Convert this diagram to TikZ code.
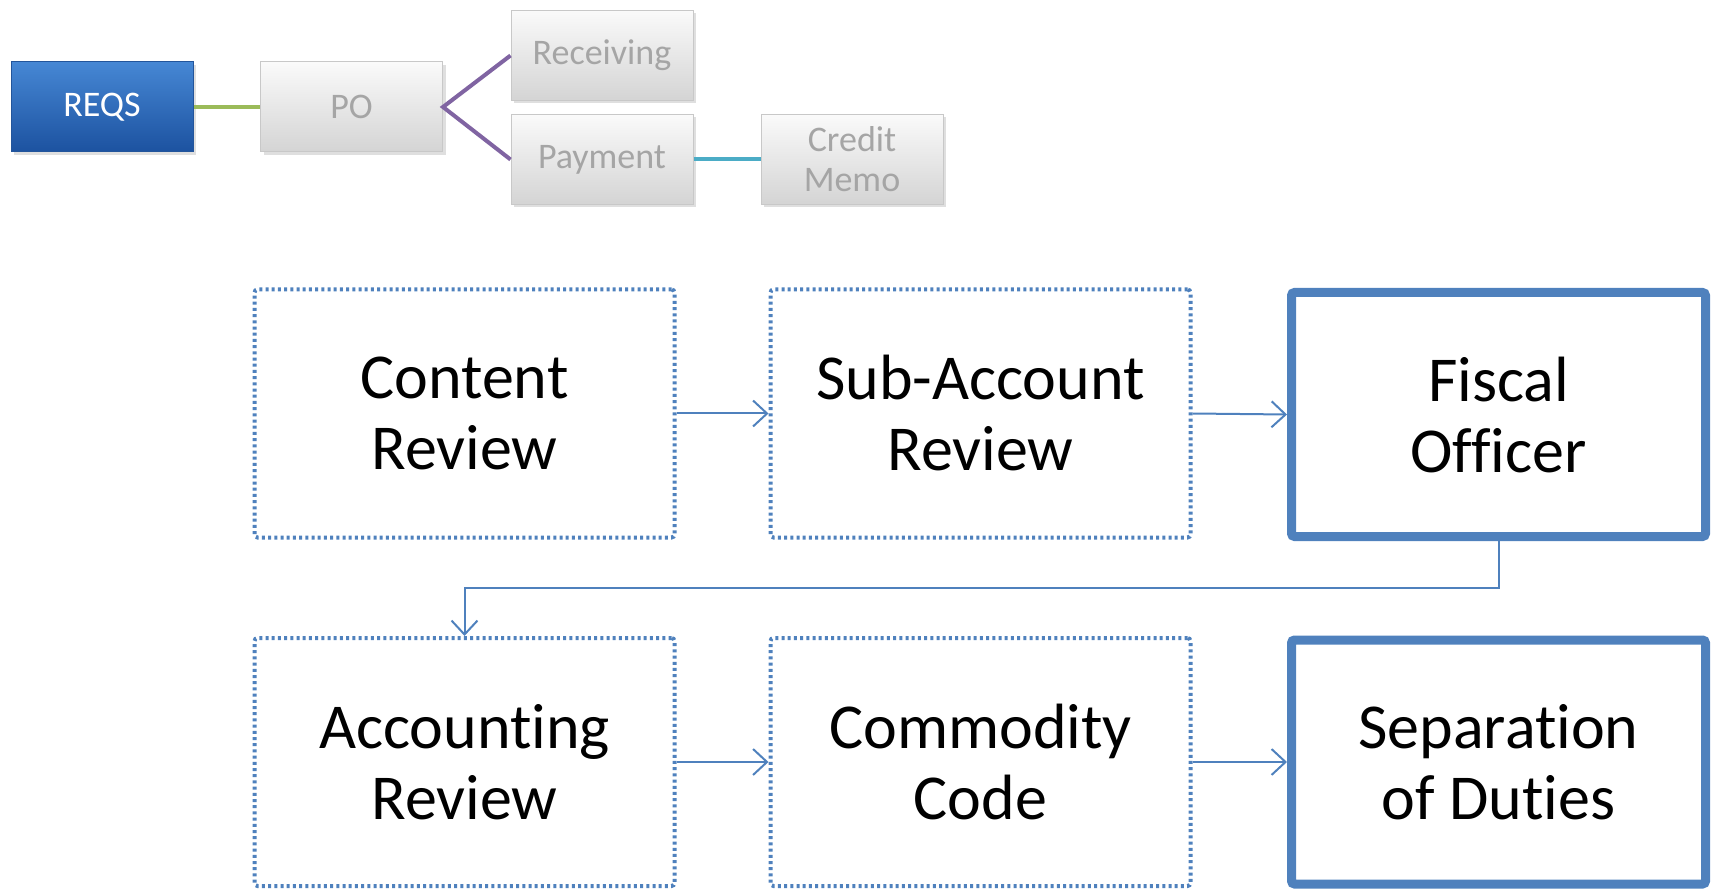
\documentclass[tikz,border=0pt]{standalone}
\usepackage{fontspec}
\setmainfont{Carlito}[RawFeature={-liga;-calt;-dlig;-clig}]
\usetikzlibrary{arrows.meta,shadows}
\definecolor{accblue}{RGB}{79,129,189}
\definecolor{lnkgreen}{RGB}{155,187,89}
\definecolor{lnkpurple}{RGB}{128,100,162}
\definecolor{lnkcyan}{RGB}{75,172,198}
\definecolor{reqtop}{RGB}{70,135,212}
\definecolor{reqbot}{RGB}{28,82,160}
\definecolor{reqline}{RGB}{35,85,155}
\definecolor{gtop}{RGB}{250,250,250}
\definecolor{gbot}{RGB}{212,212,212}
\definecolor{gline}{RGB}{200,200,200}
\definecolor{gtext}{RGB}{165,165,165}
\begin{document}
\begin{tikzpicture}[x=1pt,y=-1pt,
  smallbox/.style={rectangle, minimum width=182pt, minimum height=90pt, inner sep=0pt,
    top color=gtop, bottom color=gbot, draw=gline, line width=1pt, text=gtext,
    font=\fontsize{36}{40}\selectfont, align=center,
    drop shadow={shadow xshift=3pt, shadow yshift=-3pt, opacity=0.25}},
  reqbox/.style={smallbox, top color=reqtop, bottom color=reqbot, draw=reqline, text=white},
  dotbox/.style={rectangle, minimum width=420pt, minimum height=248pt, inner sep=0pt,
    draw=accblue, line width=4pt, dash pattern=on 3pt off 3.2pt, rounded corners=3pt,
    font=\fontsize{64}{71}\selectfont, align=center},
  thickbox/.style={rectangle, minimum width=414pt, minimum height=244pt, inner sep=0pt,
    draw=accblue, line width=9pt, rounded corners=3pt,
    font=\fontsize{64}{71}\selectfont, align=center},
  flow/.style={draw=accblue, line width=2pt, -{Straight Barb[length=14pt,width=26pt,line width=2pt]}},
  link/.style={line width=4pt}
]
\useasboundingbox (0,0) rectangle (1717,890);

% top row
\node[reqbox] (rq) at (102,107) {REQS};
\node[smallbox] (po) at (351.5,107) {PO};
\node[smallbox] (rc) at (602,55.5) {Receiving};
\node[smallbox] (pm) at (602,159.5) {Payment};
\node[smallbox] (cm) at (852,159.5) {Credit\\Memo};

\draw[link, lnkgreen] (rq.east) -- (po.west);
\draw[link, lnkpurple, line join=miter] (rc.west) -- (po.east) -- (pm.west);
\draw[link, lnkcyan] (pm.east) -- (cm.west);

% flow boxes
\node[dotbox] (cr) at (464.5,413.5) {Content\\Review};
\node[dotbox] (sa) at (980.5,413.5) {Sub-Account\\Review};
\node[thickbox] (fo) at (1498.5,414.5) {Fiscal\\Officer};
\node[dotbox] (ar) at (464.5,762) {Account\kern0pt ing\\Review};
\node[dotbox] (cc) at (980.5,762) {Commodity\\Code};
\node[thickbox] (sd) at (1498.5,762) {Separat\kern0pt ion\\of Dut\kern0pt ies};

\draw[flow] (cr.east) -- (sa.west);
\draw[flow] (sa.east) -- (fo.west);
\draw[flow] (fo.south) -- ++(0,47) -| (ar.north);
\draw[flow] (ar.east) -- (cc.west);
\draw[flow] (cc.east) -- (sd.west);
\end{tikzpicture}
\end{document}
